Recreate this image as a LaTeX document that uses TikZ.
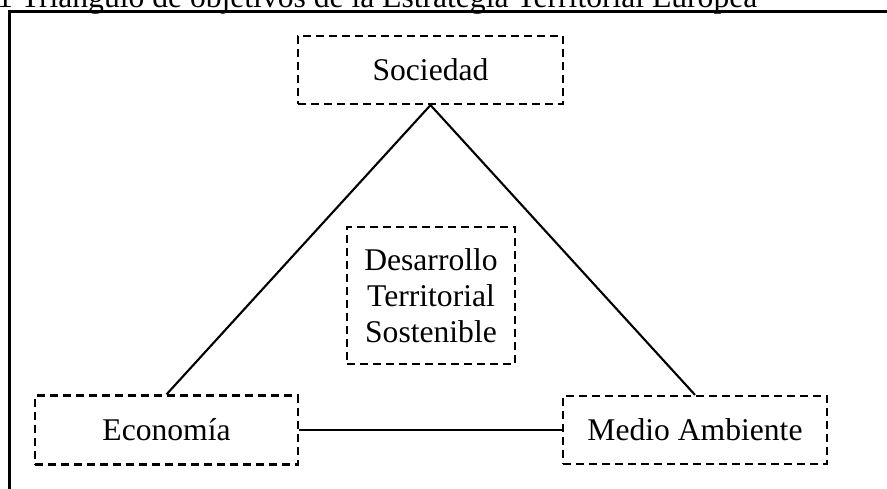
\documentclass[tikz,border=0pt]{standalone}
\usepackage{fontspec}
\setmainfont{Liberation Serif}
\begin{document}
\begin{tikzpicture}[x=1pt,y=-1pt,
  every node/.style={font=\fontsize{31.6}{36}\selectfont},
  box/.style={draw,dash pattern=on 8pt off 5pt,line width=2.2pt,inner sep=0pt,align=center},
  link/.style={line width=2.1pt}]
\useasboundingbox (0,0) rectangle (887,488);
% caption, partly above the page
\node[anchor=base west,inner sep=0pt] (title) at (-3,7)
  {1 Triángulo de objetivos de la Estrategia Territorial Europea};
% outer frame
\draw[line width=2.5pt] (9.5,520) |- (920,11.5);
% the three goals and the centre
\node[box,minimum width=265pt,minimum height=68pt] (soc) at (430.5,70) {Sociedad};
\node[box,minimum width=168pt,minimum height=137pt] (dts) at (431,295.5)
  {Desarrollo\\Territorial\\Sostenible};
\node[box,minimum width=263pt,minimum height=69pt] (eco) at (166.5,430) {Economía};
\node[box,minimum width=264pt,minimum height=68pt] (med) at (695,430) {Medio Ambiente};
% triangle
\draw[link] (soc.south) -- (eco.north);
\draw[link] (soc.south) -- (med.north);
\draw[link] (eco.east) -- (med.west);
\end{tikzpicture}
\end{document}
